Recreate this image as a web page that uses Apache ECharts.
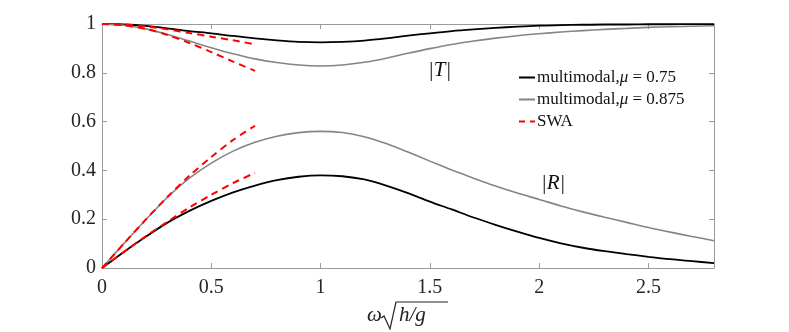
<!DOCTYPE html>
<html>
<head>
<meta charset="utf-8">
<script src="https://cdn.jsdelivr.net/npm/echarts@6/dist/echarts.min.js"></script>
<style>html,body{margin:0;padding:0;background:#fff}#c{width:789px;height:332px}</style>
</head>
<body>
<div id="c"></div>
<script>
// x values
var omega = [0,0.1,0.2,0.3,0.4,0.5,0.6,0.7,0.8,0.9,1.0,1.1,1.2,1.3,1.4,1.5,1.6,1.7,1.8,1.9,2.0,2.1,2.2,2.3,2.4,2.5,2.6,2.7,2.8];
var omegaSWA = [0,0.1,0.2,0.3,0.4,0.5,0.6,0.7];
// multimodal, mu = 0.75
var T_075 = [1,0.998,0.992,0.982,0.971,0.962,0.951,0.941,0.933,0.927,0.925,0.927,0.932,0.941,0.952,0.962,0.971,0.978,0.984,0.989,0.993,0.995,0.997,0.998,0.998,0.999,0.999,0.9995,0.9998];
var R_075 = [0,0.066,0.128,0.186,0.234,0.275,0.31,0.338,0.36,0.374,0.38,0.376,0.363,0.338,0.307,0.272,0.24,0.207,0.177,0.149,0.123,0.101,0.083,0.069,0.057,0.046,0.036,0.028,0.02];
// multimodal, mu = 0.875
var T_0875 = [1,0.995,0.98,0.957,0.93,0.903,0.878,0.857,0.842,0.832,0.828,0.832,0.843,0.86,0.88,0.899,0.916,0.93,0.942,0.952,0.96,0.967,0.973,0.978,0.982,0.986,0.989,0.991,0.993];
var R_0875 = [0,0.1,0.198,0.29,0.368,0.43,0.479,0.515,0.54,0.555,0.56,0.555,0.538,0.51,0.475,0.438,0.402,0.368,0.336,0.307,0.281,0.254,0.23,0.208,0.187,0.166,0.147,0.129,0.112];
// SWA
var swaR_lower = [0,0.066,0.13,0.19,0.248,0.3,0.348,0.39];
var swaR_upper = [0,0.1,0.198,0.292,0.378,0.455,0.525,0.583];
var swaT_upper = [1,0.998,0.99,0.978,0.963,0.948,0.933,0.917];
var swaT_lower = [1,0.995,0.98,0.955,0.922,0.885,0.846,0.808];
// ticks
var xTicks = [0,0.5,1,1.5,2,2.5];
var yTicks = [0,0.2,0.4,0.6,0.8,1];
var legendNames = ['multimodal,μ = 0.75','multimodal,μ = 0.875','SWA'];

function pairs(xs, ys){ return xs.map(function(x,i){return [x, ys[i]];}); }

var serif = '"Liberation Serif","Times New Roman",serif';
var axisGray = '#9a9a9a';
var lblColor = '#262626';

function lineSeries(name, xs, ys, color, width, dashed){
  return {
    name: name, type: 'line', data: pairs(xs, ys), showSymbol: false, symbol: 'none',
    smooth: 0.3, animation: false, xAxisIndex: 0, yAxisIndex: 0,
    lineStyle: {color: color, width: width, type: dashed ? [7,5] : 'solid'},
    itemStyle: {color: color}
  };
}

var solidIcon = 'path://M0,0 L16,0 L16,2 L0,2 Z';
var dashIcon = 'path://M0,0 L6,0 L6,2 L0,2 Z M11,0 L16,0 L16,2 L11,2 Z';

var chart = echarts.init(document.getElementById('c'), null, {renderer:'canvas'});
var baseX = {type:'value', min:0, max:2.8, interval:0.5, splitLine:{show:false},
  axisLine:{show:true, onZero:false, lineStyle:{color:axisGray, width:1}},
  axisTick:{show:true, inside:true, length:5, lineStyle:{color:axisGray}}};
var baseY = {type:'value', min:0, max:1, interval:0.2, splitLine:{show:false},
  axisLine:{show:true, onZero:false, lineStyle:{color:axisGray, width:1}},
  axisTick:{show:true, inside:true, length:5, lineStyle:{color:axisGray}}};

chart.setOption({
  animation:false,
  grid:{left:102, top:24, right:75, bottom:64, containLabel:false},
  xAxis:[
    Object.assign({}, baseX, {position:'bottom',
      axisLabel:{show:true, color:lblColor, fontFamily:serif, fontSize:20, margin:10,
        formatter:function(v){ return xTicks.some(function(t){return Math.abs(t-v)<1e-6;}) ? String(v) : ''; }}}),
    Object.assign({}, baseX, {position:'top', axisLabel:{show:false}})
  ],
  yAxis:[
    Object.assign({}, baseY, {position:'left',
      axisLabel:{show:true, color:lblColor, fontFamily:serif, fontSize:20, margin:6,
        formatter:function(v){ return yTicks.some(function(t){return Math.abs(t-v)<1e-6;}) ? String(v) : ''; }}}),
    Object.assign({}, baseY, {position:'right', axisLabel:{show:false}})
  ],
  legend:{
    data: [
      {name: legendNames[0], icon: solidIcon},
      {name: legendNames[1], icon: solidIcon},
      {name: legendNames[2], icon: dashIcon}
    ],
    orient:'vertical', left:514, top:64, itemGap:5,
    itemWidth:16, itemHeight:2,
    textStyle:{fontFamily:serif, fontSize:17, color:'#111', padding:[0,0,0,-3],
      rich:{i:{fontFamily:serif, fontSize:17, fontStyle:'italic', color:'#111'}}},
    formatter:function(n){ return n.replace('μ','{i|μ}'); }
  },
  series:[
    lineSeries(legendNames[0], omega, T_075, '#000000', 1.8, false),
    lineSeries(legendNames[0], omega, R_075, '#000000', 1.8, false),
    lineSeries(legendNames[1], omega, T_0875, '#858585', 1.6, false),
    lineSeries(legendNames[1], omega, R_0875, '#858585', 1.6, false),
    lineSeries(legendNames[2], omegaSWA, swaT_upper, '#ff0000', 2, true),
    lineSeries(legendNames[2], omegaSWA, swaT_lower, '#ff0000', 2, true),
    lineSeries(legendNames[2], omegaSWA, swaR_upper, '#ff0000', 2, true),
    lineSeries(legendNames[2], omegaSWA, swaR_lower, '#ff0000', 2, true)
  ],
  graphic:[
    {type:'text', left:428, top:60, style:{text:'|T|', font:'italic 21px '+serif, fill:'#111'}},
    {type:'text', left:541, top:173, style:{text:'|R|', font:'italic 21px '+serif, fill:'#111'}},
    {type:'text', left:367, top:305, style:{text:'ω', font:'italic 21px '+serif, fill:'#222'}},
    {type:'polyline', shape:{points:[[381,318],[384,316],[390,329],[396,302],[448,302]]}, style:{stroke:'#222', lineWidth:1.2, fill:null}},
    {type:'text', left:399, top:305, style:{text:'h/g', font:'italic 21px '+serif, fill:'#222'}}
  ]
});
</script>
</body>
</html>
